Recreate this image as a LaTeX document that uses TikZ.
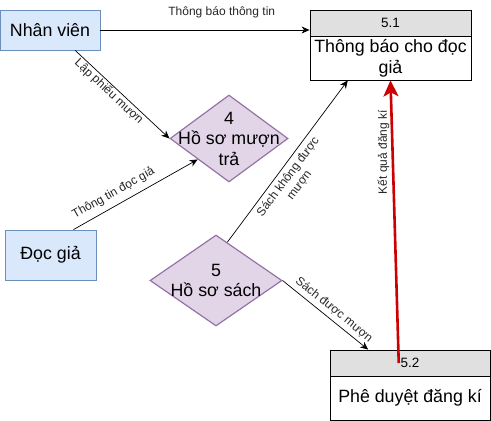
\documentclass[tikz,border=0pt]{standalone}
\usepackage{fontspec}
\setmainfont{Liberation Sans}
\usetikzlibrary{shapes.geometric,arrows.meta,calc}
\definecolor{bluefill}{HTML}{DAE8FC}
\definecolor{bluedraw}{HTML}{6C8EBF}
\definecolor{purfill}{HTML}{E1D5E7}
\definecolor{purdraw}{HTML}{9673A6}
\definecolor{hdrfill}{HTML}{E0E0E0}
\definecolor{redline}{HTML}{CC0000}
\begin{document}
\begin{tikzpicture}[x=1pt,y=-1pt,
 entity/.style={draw=bluedraw,fill=bluefill,line width=0.8pt,inner sep=0pt,font=\fontsize{17.8}{21.4}\selectfont},
 store/.style={diamond,draw=purdraw,fill=purfill,line width=1.2pt,inner sep=0pt},
 stext/.style={align=center,inner sep=0pt,font=\fontsize{17.8}{20.5}\selectfont},
 hdr/.style={draw=black,fill=hdrfill,line width=0.8pt,inner sep=0pt,font=\fontsize{13.5}{16}\selectfont},
 body/.style={draw=black,fill=white,line width=0.8pt,inner sep=0pt,align=center,font=\fontsize{17.8}{21.4}\selectfont},
 flow/.style={draw=black,line width=0.7pt,-{Stealth[length=8pt,width=7pt,inset=2.5pt]}},
 redflow/.style={draw=redline,line width=2.6pt,-{Stealth[length=16pt,width=15pt,inset=4pt]}},
 elabel/.style={font=\fontsize{12}{14}\selectfont,inner sep=1pt,align=center,text=black!85},
]
\useasboundingbox (0,0) rectangle (491,421);

\node[entity,minimum width=100pt,minimum height=40pt] (nv) at (50,30) {Nhân viên};
\node[entity,minimum width=91pt,minimum height=50pt] (dg) at (50.5,255) {Đọc giả};

\node[store,minimum width=118pt,minimum height=87pt,label={[stext]center:{4\\Hồ sơ mượn\\trả}}] (d4) at (229,138.5) {};
\node[store,minimum width=132pt,minimum height=91pt,label={[stext]center:{5\\Hồ sơ sách}}] (d5) at (216,280.5) {};

\node[hdr,minimum width=161pt,minimum height=26pt] (b51h) at (390.5,23) {5.1};
\node[body,minimum width=161pt,minimum height=44pt] (b51) at (390.5,58) {Thông báo cho đọc\\giả};
\node[hdr,minimum width=160pt,minimum height=26pt] (b52h) at (410,363) {5.2};
\node[body,minimum width=160pt,minimum height=44pt] (b52) at (410,398) {Phê duyệt đăng kí};

\draw[flow] (nv.east) -- node[elabel,above=11pt,pos=0.58]{Thông báo thông tin} (nv.east -| b51h.west);
\draw[flow] ($(nv.south west)!0.75!(nv.south east)$) -- node[elabel,sloped,below,pos=0.41]{Lập phiếu mượn} (d4.west);
\draw[flow] ($(dg.north west)!0.75!(dg.north east)$) -- node[elabel,sloped,above=5pt,pos=0.37]{Thông tin đọc giả} ($(d4.west)!0.475!(d4.south)$);
\draw[flow] ($(d5.north)!0.17!(d5.east)$) -- node[elabel,sloped,below=3pt,pos=0.44]{Sách không được\\mượn} ($(b51.south west)!0.236!(b51.south east)$);
\draw[flow] (d5.east) -- node[elabel,sloped,above=3pt,pos=0.53]{Sách được mượn} ($(b52h.north west)!0.24!(b52h.north east)$);
\draw[redflow] ($(b52h.west)!0.43!(b52h.east)$) -- node[elabel,rotate=90,anchor=south,inner sep=2pt,pos=0.746]{Kết quả đăng kí} (b51.south);
\end{tikzpicture}
\end{document}
